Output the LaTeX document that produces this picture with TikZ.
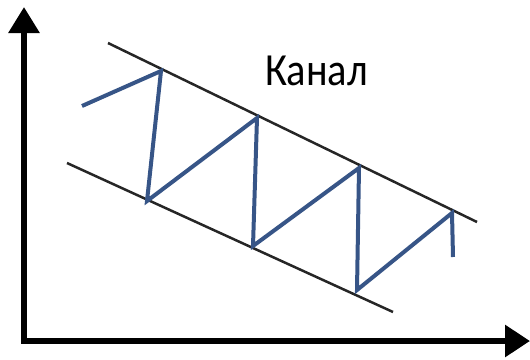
\documentclass[tikz,border=0pt]{standalone}
\usepackage{fontspec}
\setmainfont{Carlito}
\usetikzlibrary{arrows.meta}
\definecolor{zigblue}{RGB}{55,85,135}

\begin{document}
\begin{tikzpicture}[x=1pt,y=-1pt,
    axis/.style={line width=6pt,line join=miter},
    chan/.style={line width=2.5pt,black!85},
    zig/.style={line width=4pt,zigblue,line join=miter}]
        \useasboundingbox (0,0) rectangle (530,359);

        % axes
        \coordinate (ytip) at (24,7);
        \coordinate (orig) at (24,341);
        \coordinate (xtip) at (530,341);
        \draw[axis,{Triangle[length=26pt,width=30pt]}-{Triangle[length=25pt,width=31pt]}]
          (ytip) -- (orig) -- (xtip);

        % channel borders
        \coordinate (up1) at (108,43);
        \coordinate (up2) at (477,222);
        \coordinate (lo1) at (67,163);
        \coordinate (lo2) at (393,312);
        \draw[chan] (up1) -- (up2);
        \draw[chan] (lo1) -- (lo2);

        % price zigzag
        \coordinate (z0) at (82,106);
        \coordinate (z1) at (161,71);
        \coordinate (z2) at (147,201);
        \coordinate (z3) at (257,118);
        \coordinate (z4) at (253,246);
        \coordinate (z5) at (359,168);
        \coordinate (z6) at (357,290);
        \coordinate (z7) at (452,213);
        \coordinate (z8) at (453,257);
        \draw[zig] (z0) -- (z1) -- (z2) -- (z3) -- (z4) -- (z5) -- (z6) -- (z7) -- (z8);

        \node[font=\fontsize{46}{54}\selectfont,xscale=0.88,inner sep=0pt] (lbl) at (316.5,71) {Канал};
      \end{tikzpicture}
\end{document}
